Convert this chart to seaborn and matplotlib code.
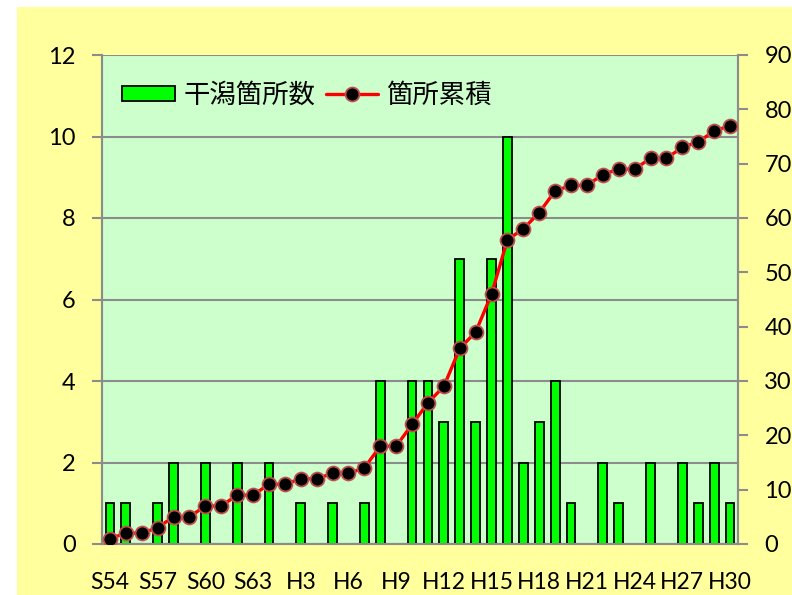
import numpy as np
import matplotlib
matplotlib.use("Agg")
import matplotlib.pyplot as plt
import seaborn as sns
from matplotlib.patches import Rectangle
from matplotlib.lines import Line2D
from matplotlib.patches import Patch

# data: S54..S63, H1..H30
years = [f"S{y}" for y in range(54, 64)] + [f"H{y}" for y in range(1, 31)]
counts = [1, 1, 0, 1, 2, 0, 2, 0, 2, 0,
          2, 0, 1, 0, 1, 0, 1, 4, 0, 4,
          4, 3, 7, 3, 7, 10, 2, 3, 4, 1,
          0, 2, 1, 0, 2, 0, 2, 1, 2, 1]
cumulative = [1, 2, 2, 3, 5, 5, 7, 7, 9, 9,
              11, 11, 12, 12, 13, 13, 14, 18, 18, 22,
              26, 29, 36, 39, 46, 56, 58, 61, 65, 66,
              66, 68, 69, 69, 71, 71, 73, 74, 76, 77]
label_years = ["S54", "S57", "S60", "S63", "H3", "H6", "H9",
               "H12", "H15", "H18", "H21", "H24", "H27", "H30"]

sns.set_style("white")
plt.rcParams['font.family'] = ['Lato', 'Noto Sans CJK JP', 'DejaVu Sans']
plt.rcParams['text.color'] = 'black'

W, H = 792, 595
fig = plt.figure(figsize=(W / 100, H / 100), dpi=100, facecolor="white")
# yellow chart area (white strip on top and left as in the original crop)
fig.patches.append(Rectangle((17 / W, 0), 1 - 17 / W, 1 - 7 / H,
                             transform=fig.transFigure, facecolor="#FFFF9E",
                             edgecolor="none", zorder=-10))

ax = fig.add_axes([102 / W, 1 - 544 / H, (738 - 102) / W, (544 - 55) / H])
ax.set_facecolor("#CCFFCC")

sns.barplot(x=years, y=counts, ax=ax, color="#00FF00", width=0.55,
            edgecolor="black", linewidth=1.3, saturation=1, zorder=3)

ax2 = ax.twinx()
sns.lineplot(x=np.arange(len(years)), y=cumulative, ax=ax2, color="#FF0000",
             linewidth=2.4, marker="o", markersize=10,
             markerfacecolor="black", markeredgecolor="#C0504D",
             markeredgewidth=1.3, zorder=4)

grey = "#8C8C8C"
ax.set_xlim(-0.5, len(years) - 0.5)
ax.set_ylim(0, 12)
ax.set_yticks(range(0, 13, 2))
ax.yaxis.grid(True, color=grey, linewidth=1.5)
ax.set_axisbelow(True)
ax2.set_ylim(0, 90)
ax2.set_yticks(range(0, 91, 10))

pos = [years.index(y) for y in label_years]
ax.set_xticks(pos)
ax.set_xticklabels(label_years)
ax.set_xticks(np.arange(-0.5, len(years), 1), minor=True)
ax.tick_params(axis="x", which="major", length=0, pad=20, labelsize=16.5,
               labelcolor="black")
ax.tick_params(axis="x", which="minor", length=7, width=1.5, color=grey,
               direction="out")
ax.tick_params(axis="y", length=7, width=1.5, color=grey, pad=12,
               labelsize=17, labelcolor="black")
ax2.tick_params(axis="y", length=7, width=1.5, color=grey, pad=12,
                labelsize=17, labelcolor="black")
ax.set_xlabel("")
ax.set_ylabel("")
ax2.set_ylabel("")

for a in (ax, ax2):
    for s in a.spines.values():
        s.set_color(grey)
        s.set_linewidth(1.5)
ax.spines["top"].set_visible(False)
ax2.spines["top"].set_visible(False)

handles = [Patch(facecolor="#00FF00", edgecolor="black", linewidth=1.3),
           Line2D([], [], color="#FF0000", linewidth=2.4, marker="o",
                  markersize=10, markerfacecolor="black",
                  markeredgecolor="#C0504D", markeredgewidth=1.3)]
leg = ax2.legend(handles, ["干潟箇所数", "箇所累積"], loc="center left",
                 ncol=2, frameon=False,
                 bbox_to_anchor=(104 / W, 1 - 95 / H),
                 bbox_transform=fig.transFigure,
                 prop={"family": ["Noto Sans CJK JP", "DejaVu Sans"],
                       "size": 19},
                 labelcolor="black",
                 handlelength=2.0, handleheight=0.5, handletextpad=0.3,
                 columnspacing=0.4, borderpad=0.2)

fig.savefig("out.png", dpi=100, facecolor=fig.get_facecolor())
